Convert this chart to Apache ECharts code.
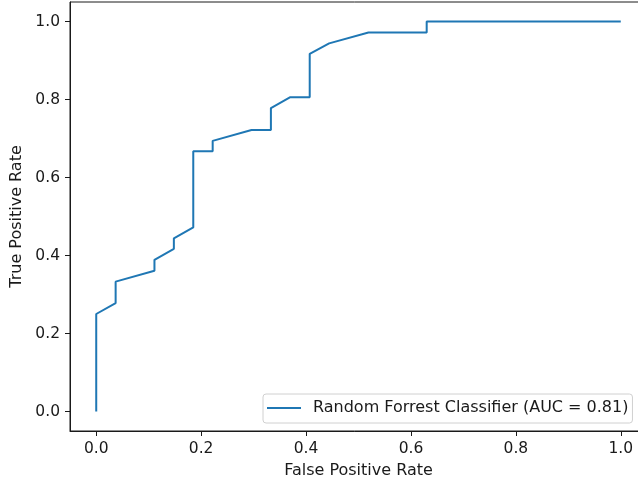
<!DOCTYPE html>
<html>
<head>
<meta charset="utf-8">
<script src="https://cdn.jsdelivr.net/npm/echarts@6/dist/echarts.min.js"></script>
<style>
	html, body { margin: 0; padding: 0; background: #fff; }
	#chart { width: 638px; height: 484px; }
</style>
</head>
<body>
<div id="chart"></div>
<script>
	// ROC curve points (27 negatives, 36 positives)
	var fpr = [0, 0, 0.037, 0.037, 0.111, 0.111, 0.148, 0.148, 0.185, 0.185, 0.222, 0.222,
		0.296, 0.333, 0.333, 0.370, 0.407, 0.407, 0.444, 0.519, 0.630, 0.630, 1.0];
	var tpr = [0, 0.25, 0.278, 0.333, 0.361, 0.389, 0.417, 0.444, 0.472, 0.667, 0.667, 0.694,
		0.722, 0.722, 0.778, 0.806, 0.806, 0.917, 0.944, 0.972, 0.972, 1.0, 1.0];
	var ticks = [0, 0.2, 0.4, 0.6, 0.8, 1.0];
	var seriesName = 'Random Forrest Classifier (AUC = 0.81)';

	var points = fpr.map(function (x, i) { return [x, tpr[i]]; });
	var font = 'DejaVu Sans';
	var ink = '#1a1a1a';

	function axis(name, gap) {
		return {
			type: 'value',
			min: -0.05,
			max: 1.05,
			name: name,
			nameLocation: 'middle',
			nameGap: gap,
			nameTextStyle: { fontFamily: font, fontSize: 16, color: ink },
			axisLine: { show: true, onZero: false, lineStyle: { color: ink, width: 1 } },
			axisTick: { show: true, length: 5, customValues: ticks, lineStyle: { color: ink, width: 1 } },
			axisLabel: {
				margin: 10,
				customValues: ticks,
				fontFamily: font, fontSize: 15.5, color: ink,
				formatter: function (v) { return v.toFixed(1); }
			},
			splitLine: { show: false }
		};
	}

	var xAxis = axis('False Positive Rate', 32);
	var yAxis = axis('True Positive Rate', 45);
	yAxis.nameRotate = 90;

	var chart = echarts.init(document.getElementById('chart'));
	chart.setOption({
		animation: false,
		grid: {
			left: 70, top: 2, width: 577, height: 429,
			outerBoundsMode: 'none', containLabel: false,
			show: true, borderColor: ink, borderWidth: 1
		},
		xAxis: xAxis,
		yAxis: yAxis,
		legend: {
			data: [{ name: seriesName, icon: 'rect' }],
			left: 263,
			top: 394,
			padding: [6, 4, 7, 4],
			itemWidth: 34,
			itemHeight: 2,
			backgroundColor: '#fff',
			borderColor: '#d0d0d0',
			borderWidth: 1,
			borderRadius: 3,
			textStyle: { fontFamily: font, fontSize: 16, color: ink, padding: [0, 0, 0, 7] }
		},
		series: [{
			name: seriesName,
			type: 'line',
			data: points,
			symbol: 'none',
			lineStyle: { color: '#1f77b4', width: 2 },
			itemStyle: { color: '#1f77b4' }
		}]
	});
</script>
</body>
</html>
